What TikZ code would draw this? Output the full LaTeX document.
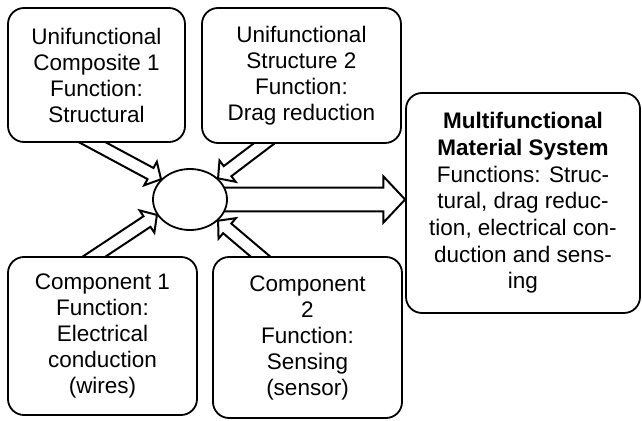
\documentclass[tikz,border=0pt]{standalone}
\usepackage{fontspec}
\setmainfont{Liberation Sans}
\usetikzlibrary{shapes.geometric, calc, positioning, backgrounds}

% open block arrow: start, tip, half shaft, half head, head length
\newcommand{\fatarrow}[5]{%
  \draw[line width=0.5mm] let \p1=($(#2)-(#1)$), \n1={veclen(\x1,\y1)}, \n2={atan2(\y1,\x1)} in
    [shift={(#1)}, rotate=\n2] (-12pt,-#3) -- ({\n1-#5},-#3) -- ({\n1-#5},-#4) -- (\n1,0pt)
    -- ({\n1-#5},#4) -- ({\n1-#5},#3) -- (-12pt,#3);
}

\begin{document}
\begin{tikzpicture}[
    box/.style={draw, fill=white, line width=0.45mm, rounded corners=0.4cm, align=center, inner sep=0pt,
      font=\fontsize{16}{18.5}\selectfont}]
  \useasboundingbox (0,0) rectangle (16.05,10.5);

  \node[box, minimum width=4.425cm, minimum height=3.35cm] (unicomp) at (2.4125,8.625)
    {Unifunctional\\Composite 1\\Function:\\Structural};
  \node[box, minimum width=4.975cm, minimum height=3.375cm] (unistruct) at (7.5375,8.6125)
    {Unifunctional\\Structure 2\\Function:\\Drag reduction};
  \node[box, minimum width=4.725cm, minimum height=3.95cm] (compwire) at (2.5625,2.1)
    {Component 1\\Function:\\Electrical\\conduction\\(wires)};
  \node[box, minimum width=4.725cm, minimum height=4.025cm] (compsensor) at (7.6875,2.0625)
    {Component\\2\\Function:\\Sensing\\(sensor)};
  \node[box, minimum width=5.85cm, minimum height=5.5cm, font=\fontsize{16}{19}\selectfont] (mfsystem) at (13.075,5.425)
    {\textbf{Multifunctional}\\\textbf{Material System}\\Functions: Struc-\\tural, drag reduc-\\tion, electrical con-\\duction and sens-\\ing};

  \node[draw, fill=white, ellipse, line width=0.45mm, minimum width=1.85cm, minimum height=1.525cm, inner sep=0pt] (hub) at (4.75,5.5125) {};

  \coordinate (tailA) at ([xshift=-0.075cm]unicomp.south);
  \coordinate (tailB) at ([xshift=-0.95cm]unistruct.south);
  \coordinate (tailD) at ([xshift=-0.19cm]compwire.north);
  \coordinate (tailE) at ([xshift=-1.19cm]compsensor.north);
  \coordinate (sysin) at (hub.east -| mfsystem.west);

  \begin{pgfonlayer}{background}
    \fatarrow{tailA}{hub.145}{4.5pt}{9.5pt}{8.5pt}
    \fatarrow{tailB}{hub.37}{4.5pt}{9.5pt}{8.5pt}
    \fatarrow{tailD}{hub.205}{4.5pt}{9.5pt}{8.5pt}
    \fatarrow{tailE}{hub.323}{4.5pt}{9.5pt}{8.5pt}
    \fatarrow{hub.east}{sysin}{8.5pt}{16.5pt}{15.5pt}
  \end{pgfonlayer}
\end{tikzpicture}
\end{document}
